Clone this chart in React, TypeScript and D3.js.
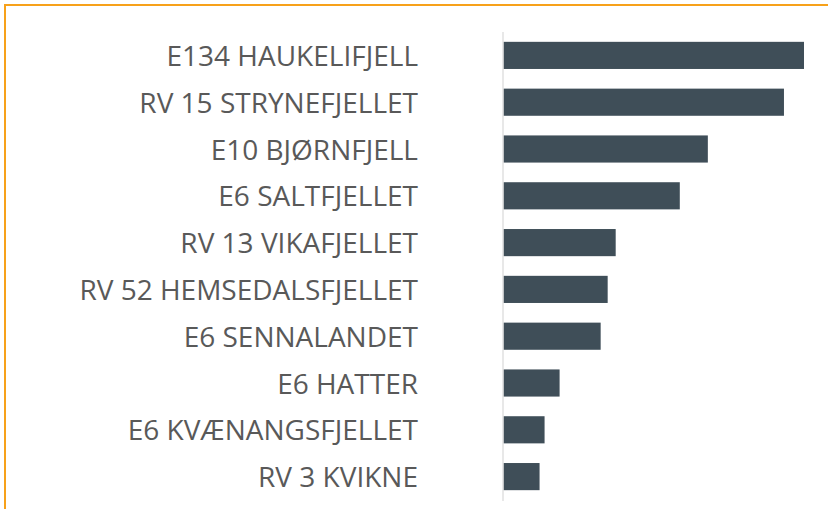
import React from "react";
import * as d3 from "d3";

const categories = [
  "E134 HAUKELIFJELL",
  "RV 15 STRYNEFJELLET",
  "E10 BJØRNFJELL",
  "E6 SALTFJELLET",
  "RV 13 VIKAFJELLET",
  "RV 52 HEMSEDALSFJELLET",
  "E6 SENNALANDET",
  "E6 HATTER",
  "E6 KVÆNANGSFJELLET",
  "RV 3 KVIKNE",
];
const values = [300, 280, 204, 176, 112, 104, 97, 56, 41, 36];

const W = 828;
const H = 509;

export default function App() {
  const y = d3
    .scaleBand<string>()
    .domain(categories)
    .range([32, 500])
    .paddingInner(0.42)
    .paddingOuter(0.21);
  const x = d3.scaleLinear().domain([0, 300]).range([503.5, 804]);

  return (
    <svg
      width={W}
      height={H}
      style={{ position: "absolute", left: 0, top: 0, background: "#fff" }}
    >
      <path d={`M5,${H} V5 H${W}`} fill="none" stroke="#f7a11a" strokeWidth={2} />
      {categories.map((c, i) => (
        <rect
          key={c}
          x={x(0)}
          y={y(c)!}
          width={x(values[i]) - x(0)}
          height={y.bandwidth()}
          fill="#3f4e58"
        />
      ))}
      <line x1={503} x2={503} y1={32} y2={501} stroke="#d9d9d9" strokeWidth={1.2} />
      {categories.map((c) => (
        <text
          key={c}
          x={418}
          y={y(c)! + y.bandwidth() / 2 + 10.5}
          textAnchor="end"
          fontFamily="'Open Sans', sans-serif"
          fontSize={28}
          fill="#595959"
        >
          {c}
        </text>
      ))}
    </svg>
  );
}
